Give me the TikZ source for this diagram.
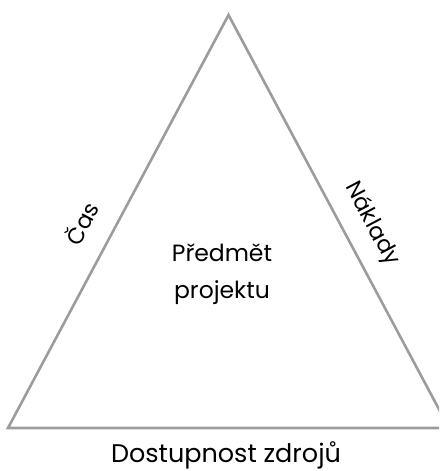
\documentclass[tikz,border=0pt]{standalone}
\usepackage{fontspec}
\setmainfont{Poppins}
\definecolor{edgegray}{HTML}{9C9C9C}
\tikzset{
  edge/.style={draw=edgegray, line width=2.6pt, line join=miter},
  lbl/.style={inner sep=0pt, text=black},
  sidelbl/.style={lbl, font=\fontsize{22.5}{26}\selectfont},
}
\begin{document}
\begin{tikzpicture}[x=1pt, y=-1pt]
  \useasboundingbox (0,0) rectangle (439,471);
  \begin{scope}
    \clip (0,0) rectangle (439,471);
    \coordinate (apex) at (228.5,15);
    \coordinate (bl) at (8,428);
    \coordinate (br) at (449,428);
    \draw[edge] (apex) -- (bl) -- (br) -- cycle;
  \end{scope}
  \node[lbl, align=center, font=\fontsize{23.5}{37}\selectfont] (topic) at (222,274) {Předmět\\projektu};
  \node[lbl, font=\fontsize{25.5}{30}\selectfont] (res) at (226,455) {Dostupnost zdrojů};
  \node[sidelbl, rotate=62] (time) at (81,223) {Čas};
  \node[sidelbl, rotate=-62] (cost) at (372,224) {Náklady};
\end{tikzpicture}
\end{document}
